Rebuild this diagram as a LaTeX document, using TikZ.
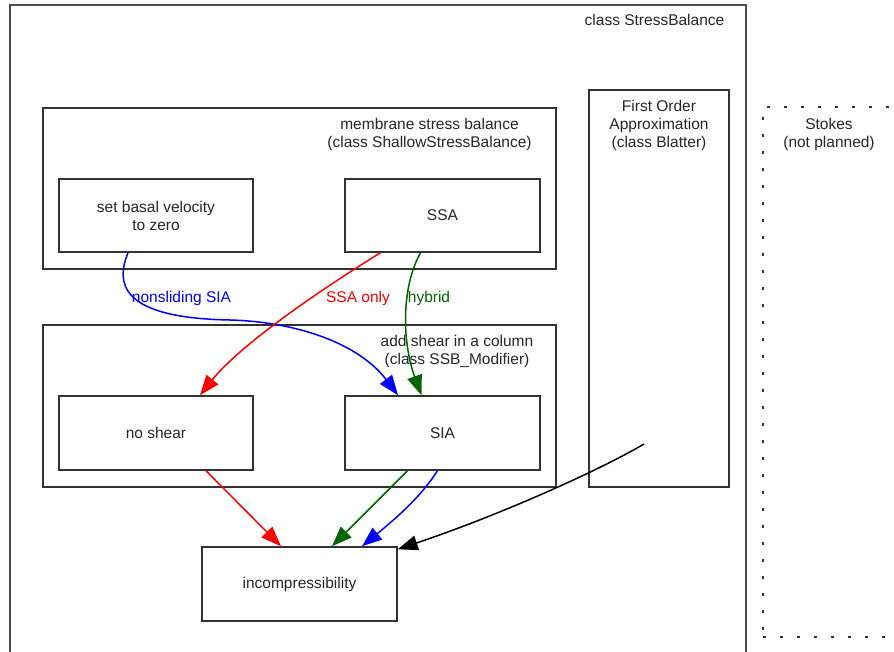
\documentclass[tikz,border=0pt]{standalone}
\usepackage{fontspec}
\setmainfont{Liberation Sans}
\usetikzlibrary{arrows.meta}
\definecolor{dkgreen}{RGB}{0,100,0}
\tikzset{
  box/.style={draw=black!80, line width=1.5pt, rectangle, inner sep=0pt, text=black!85, align=center, font=\fontsize{15.5}{18}\selectfont},
  txt/.style={inner sep=0pt, text=black!85, align=center, font=\fontsize{15.5}{18}\selectfont},
  elabel/.style={inner sep=0pt, font=\fontsize{15.5}{18}\selectfont},
  conn/.style={line width=1.5pt, -{Triangle[length=20pt,width=15pt]}},
}
\begin{document}
\begin{tikzpicture}[x=1pt,y=-1pt]
\useasboundingbox (0,0) rectangle (894,652);
\clip (0,0) rectangle (894,652);
% outer containers
\node[box, draw=black!70, line width=2pt, minimum width=736pt, minimum height=700pt] (sb) at (378,355) {};
\node[txt] (sblabel) at (654.5,20) {class StressBalance};
\node[box, draw=black!80, dash pattern=on 3pt off 14pt, line width=2pt, minimum width=240pt, minimum height=530pt] (stokes) at (883,372) {};
\node[txt] (stokeslabel) at (829,134) {Stokes\\(not planned)};
% membrane
\node[box, minimum width=513pt, minimum height=161pt] (memb) at (299.5,188.5) {};
\node[txt] (memblabel) at (429.5,134) {membrane stress balance\\(class ShallowStressBalance)};
\node[box, minimum width=194pt, minimum height=73pt] (basal) at (156,215.5) {set basal velocity\\to zero};
\node[box, minimum width=195pt, minimum height=73pt] (ssa) at (442.5,215.5) {SSA};
% column
\node[box, minimum width=513pt, minimum height=162pt] (col) at (299.5,406) {};
\node[txt] (collabel) at (457,351) {add shear in a column\\(class SSB\_Modifier)};
\node[box, minimum width=194pt, minimum height=74pt] (noshear) at (156,433) {no shear};
\node[box, minimum width=195pt, minimum height=74pt] (sia) at (442.5,433) {SIA};
% first order
\node[box, minimum width=140pt, minimum height=397pt] (foa) at (659,288.5) {};
\node[txt] (foalabel) at (659,125) {First Order\\Approximation\\(class Blatter)};
% incompressibility
\node[box, minimum width=195pt, minimum height=74pt] (incomp) at (299.5,584) {incompressibility};
\coordinate (foastart) at (644,444);
% edges
\draw[conn, blue] ([xshift=-28pt]basal.south) .. controls (116,282) and (118,318) .. (230,320) .. controls (300,322) and (360,345) .. ([xshift=-44.5pt]sia.north);
\node[elabel, text=blue] (lnons) at (181.5,298) {nonsliding SIA};
\draw[conn, red] ([xshift=-62pt]ssa.south) .. controls (320,290) and (240,345) .. ([xshift=44pt]noshear.north);
\node[elabel, text=red] (lssa) at (358,298) {SSA only};
\draw[conn, dkgreen] ([xshift=-22pt]ssa.south) .. controls (400,290) and (403,345) .. ([xshift=-21pt]sia.north);
\node[elabel, text=dkgreen] (lhyb) at (429,298) {hybrid};
\draw[conn, red] ([xshift=50pt]noshear.south) -- ([xshift=-18.5pt]incomp.north);
\draw[conn, dkgreen] ([xshift=-35pt]sia.south) -- ([xshift=32.5pt]incomp.north);
\draw[conn, blue] ([xshift=-5pt]sia.south) .. controls (422,495) and (400,515) .. ([xshift=62.5pt]incomp.north);
\draw[conn, black] (foastart) .. controls (600,470) and (500,515) .. ([yshift=-3pt]incomp.north east);
\end{tikzpicture}
\end{document}
